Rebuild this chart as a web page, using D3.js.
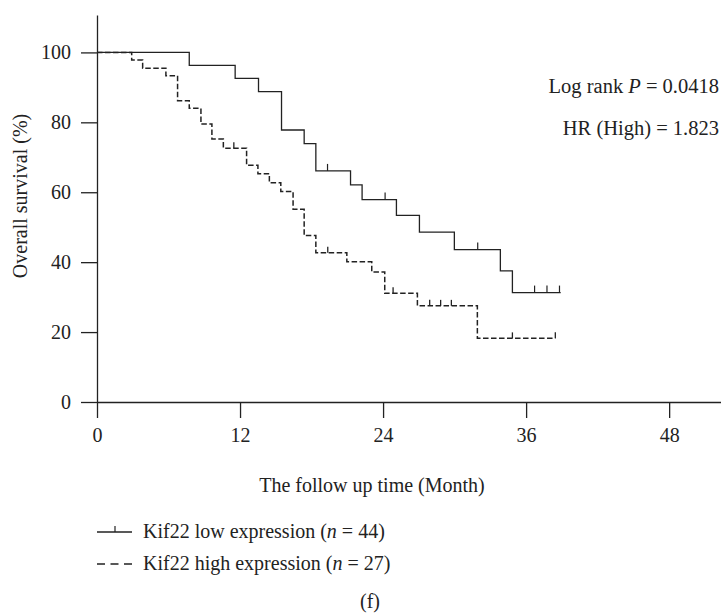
<!DOCTYPE html>
<html>
<head>
<meta charset="utf-8">
<script src="https://cdn.jsdelivr.net/npm/d3@7"></script>
<style>
body { margin: 0; background: #fff; }
svg { font-family: 'Liberation Serif', 'DejaVu Serif', serif; fill: #222; }
</style>
</head>
<body>
<svg class="chart" width="721" height="613"></svg>
<script>
var width = 721,
	height = 613,
	fontSize = 20;

// Kif22 low expression (solid)
var lowTimes = [0, 7.74, 11.59, 13.55, 15.48, 17.38, 18.36, 21.27, 22.24, 25.12, 27.05, 29.98, 33.84, 34.85, 38.9];
var lowSurv = [100, 96.3, 92.6, 88.8, 77.8, 73.9, 66.1, 62.1, 57.9, 53.4, 48.6, 43.6, 37.5, 31.3, 31.3];
var lowCensorT = [19.34, 24.17, 31.94, 36.71, 37.75, 38.8];
var lowCensorS = [66.1, 57.9, 43.6, 31.3, 31.3, 31.3];

// Kif22 high expression (dashed)
var highTimes = [0, 2.91, 3.83, 5.78, 6.76, 7.74, 8.72, 9.64, 10.6, 12.55, 13.5, 14.46, 15.42, 16.45, 17.38, 18.36, 20.96, 23.05, 24.14, 26.88, 31.91, 38.45];
var highSurv = [100, 97.8, 95.5, 93.3, 86.2, 84.0, 79.5, 75.2, 72.6, 67.7, 65.3, 62.7, 60.2, 55.1, 47.6, 42.7, 40.1, 37.2, 31.1, 27.5, 18.2, 18.2];
var highCensorT = [11.48, 19.36, 24.84, 27.91, 28.83, 29.73, 34.85, 38.45];
var highCensorS = [72.6, 42.7, 31.1, 27.5, 27.5, 27.5, 18.2, 18.2];

var xTicks = [0, 12, 24, 36, 48];
var yTicks = [0, 20, 40, 60, 80, 100];

var legendLabels = ['Kif22 low expression', 'Kif22 high expression'];
var legendN = [44, 27];

var xScale = d3.scaleLinear()
			.domain([0, 52.35])
			.range([97, 721]);

var yScale = d3.scaleLinear()
			.domain([0, 110.7])
			.range([402, 15]);

var chart = d3.select('.chart');

//Axes
var xAxisGen = d3.axisBottom(xScale).tickValues(xTicks).tickSize(16).tickSizeOuter(0).tickPadding(10);
var yAxisGen = d3.axisLeft(yScale).tickValues(yTicks).tickSize(16).tickSizeOuter(0).tickPadding(10);

var xAxis = chart.append('g')
	.attr('transform', 'translate(0,' + yScale(0) + ')')
	.call(xAxisGen);

var yAxis = chart.append('g')
	.attr('transform', 'translate(' + xScale(0) + ',0)')
	.call(yAxisGen);

[xAxis, yAxis].forEach(function(a){
	a.selectAll('path,line').attr('stroke', '#222').attr('stroke-width', 1.3);
	a.selectAll('text').attr('font-size', fontSize).attr('fill', '#222')
		.attr('font-family', "'Liberation Serif', serif");
});

//Curves
var line = d3.line()
	.x(d => xScale(d[0]))
	.y(d => yScale(d[1]))
	.curve(d3.curveStepAfter);

chart.append('path')
	.datum(d3.zip(lowTimes, lowSurv))
	.attr('d', line)
	.attr('fill', 'none')
	.attr('stroke', '#222')
	.attr('stroke-width', 1.3);

chart.append('path')
	.datum(d3.zip(highTimes, highSurv))
	.attr('d', line)
	.attr('fill', 'none')
	.attr('stroke', '#222')
	.attr('stroke-width', 1.5)
	.attr('stroke-dasharray', '5.5,2.5');

//Censor ticks
chart.selectAll('.censor-low')
	.data(d3.zip(lowCensorT, lowCensorS))
	.enter()
	.append('line')
	.attr('class', 'censor-low')
	.attr('x1', d => xScale(d[0])).attr('x2', d => xScale(d[0]))
	.attr('y1', d => yScale(d[1])).attr('y2', d => yScale(d[1]) - 7)
	.attr('stroke', '#222').attr('stroke-width', 1.2);

chart.selectAll('.censor-high')
	.data(d3.zip(highCensorT, highCensorS))
	.enter()
	.append('line')
	.attr('class', 'censor-high')
	.attr('x1', d => xScale(d[0])).attr('x2', d => xScale(d[0]))
	.attr('y1', d => yScale(d[1])).attr('y2', d => yScale(d[1]) - 6)
	.attr('stroke', '#222').attr('stroke-width', 1.3);

//Axis labels
chart.append('text')
	.attr('text-anchor', 'middle')
	.attr('x', 372)
	.attr('y', 492)
	.attr('font-size', fontSize)
	.text('The follow up time (Month)');

chart.append('text')
	.attr('text-anchor', 'middle')
	.attr('transform', 'translate(27,196) rotate(-90)')
	.attr('font-size', fontSize)
	.text('Overall survival (%)');

//Stats
var stat1 = chart.append('text')
	.attr('text-anchor', 'end')
	.attr('x', 719)
	.attr('y', 93)
	.attr('font-size', 20.5);
stat1.append('tspan').text('Log rank ');
stat1.append('tspan').attr('font-style', 'italic').text('P');
stat1.append('tspan').text(' = 0.0418');

chart.append('text')
	.attr('text-anchor', 'end')
	.attr('x', 719)
	.attr('y', 135)
	.attr('font-size', 20.5)
	.text('HR (High) = 1.823');

//Legend
var legend = chart.selectAll('.legend')
	.data(legendLabels)
	.enter()
	.append('g')
	.attr('class', 'legend')
	.attr('transform', (d, i) => 'translate(97,' + (532 + i * 32) + ')');

legend.append('line')
	.attr('x1', 0).attr('x2', 35).attr('y1', 0).attr('y2', 0)
	.attr('stroke', '#222')
	.attr('stroke-width', 1.3)
	.attr('stroke-dasharray', (d, i) => i ? '8,5.5' : null);

legend.filter((d, i) => i === 0)
	.append('line')
	.attr('x1', 18).attr('x2', 18).attr('y1', 0).attr('y2', -6)
	.attr('stroke', '#222').attr('stroke-width', 1.2);

var legendText = legend.append('text')
	.attr('x', 46)
	.attr('y', 6)
	.attr('font-size', fontSize);
legendText.append('tspan').text(d => d + ' (');
legendText.append('tspan').attr('font-style', 'italic').text('n');
legendText.append('tspan').text((d, i) => ' = ' + legendN[i] + ')');

chart.append('text')
	.attr('text-anchor', 'middle')
	.attr('x', 370)
	.attr('y', 608)
	.attr('font-size', fontSize)
	.text('(f)');
</script>
</body>
</html>
